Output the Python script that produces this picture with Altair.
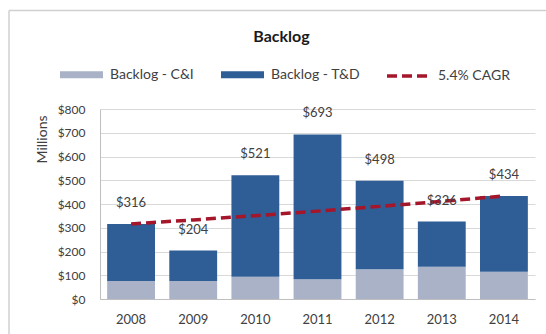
import altair as alt
import pandas as pd

years = ["2008", "2009", "2010", "2011", "2012", "2013", "2014"]
ci_values = [76, 76, 94, 83, 125, 136, 115]
td_values = [240, 128, 427, 610, 373, 190, 319]
totals = [316, 204, 521, 693, 498, 326, 434]
cagr_values = [316, 333, 351, 370, 390, 411, 434]
series_names = ["Backlog - C&I", "Backlog - T&D"]
cagr_name = "5.4% CAGR"
y_ticks = [0, 100, 200, 300, 400, 500, 600, 700, 800]

FONT = "Lato"
TEXT = "#404040"

rows = []
for i, yr in enumerate(years):
    rows.append({"year": yr, "series": series_names[0], "value": ci_values[i], "ord": 0})
    rows.append({"year": yr, "series": series_names[1], "value": td_values[i], "ord": 1})
bars_df = pd.DataFrame(rows)
tot_df = pd.DataFrame({"year": years, "total": totals})
cagr_df = pd.DataFrame({"year": years, "cagr": cagr_values, "name": [cagr_name] * len(years)})

x_scale = alt.Scale(paddingInner=0.23, paddingOuter=0.115)
y_scale = alt.Scale(domain=[0, 800], nice=False)

x_axis = alt.Axis(
    title=None, labelAngle=0, ticks=False, labelPadding=14, labelFontSize=13,
    labelColor=TEXT, labelFont=FONT, domainColor="#bfbfbf", grid=False,
)
y_axis = alt.Axis(
    values=y_ticks, format="$,.0f", ticks=False, labelPadding=15,
    labelFontSize=12, labelColor=TEXT, labelFont=FONT, labelOverlap=False,
    domainColor="#bfbfbf", gridColor="#d9d9d9",
    title="Millions", titleFont=FONT, titleFontSize=14, titleFontWeight="normal",
    titleColor=TEXT, titleX=-58, titleY=30, titleAngle=-90, titleAlign="center",
    titleBaseline="middle",
)

bars = alt.Chart(bars_df).mark_bar().encode(
    x=alt.X("year:N", sort=years, scale=x_scale, axis=x_axis),
    y=alt.Y("value:Q", stack="zero", scale=y_scale, axis=y_axis),
    color=alt.Color(
        "series:N",
        scale=alt.Scale(domain=series_names, range=["#A9B2C6", "#2F5D96"]),
        legend=alt.Legend(
            title=None, orient="none", direction="horizontal", legendX=-40, legendY=-56,
            symbolType="M-1,-0.16 h2 v0.32 h-2 z", symbolSize=1849, symbolStrokeWidth=0,
            labelFont=FONT, labelFontSize=14, labelColor=TEXT, labelOffset=7,
            columnPadding=27,
        ),
    ),
    order=alt.Order("ord:Q"),
)

labels = alt.Chart(tot_df).mark_text(
    baseline="middle", dy=-21, font=FONT, fontSize=13, color=TEXT
).encode(
    x=alt.X("year:N", sort=years, scale=x_scale, axis=x_axis),
    y=alt.Y("total:Q", scale=y_scale, axis=y_axis),
    text=alt.Text("total:Q", format="$.0f"),
)

line = alt.Chart(cagr_df).mark_line(strokeWidth=3.5, strokeDash=[10, 5]).encode(
    x=alt.X("year:N", sort=years, scale=x_scale, axis=x_axis),
    y=alt.Y("cagr:Q", scale=y_scale, axis=y_axis),
    color=alt.Color(
        "name:N",
        scale=alt.Scale(domain=[cagr_name], range=["#A5162A"]),
        legend=alt.Legend(
            title=None, orient="none", direction="horizontal", legendX=285, legendY=-55,
            symbolType="stroke", symbolSize=1600, symbolStrokeWidth=3.5,
            symbolDash=[10, 5], labelFont=FONT, labelFontSize=14, labelColor=TEXT,
            labelOffset=9,
        ),
    ),
)

border = alt.Data(values=[{"k": 1}])
border_top = alt.Chart(border).mark_rule(color="#d0d0d0", strokeWidth=1.5).encode(
    x=alt.value(-91), x2=alt.value(460), y=alt.value(-98.5)
)
border_left = alt.Chart(border).mark_rule(color="#d0d0d0", strokeWidth=1.5).encode(
    x=alt.value(-91), y=alt.value(-98.5), y2=alt.value(240)
)

chart = (
    alt.layer(border_top, border_left, bars, line, labels)
    .resolve_scale(color="independent")
    .resolve_legend(color="independent")
    .properties(
        width=435,
        height=190,
        autosize=alt.AutoSizeParams(type="none"),
        padding={"left": 100, "top": 109, "right": 11, "bottom": 35},
        background="white",
        title=alt.TitleParams(
            "Backlog", font=FONT, fontSize=16, fontWeight="bold", color="#1a1a1a",
            anchor="middle", dx=-36, offset=-51, baseline="bottom",
        ),
    )
    .configure_view(stroke=None)
)

chart.save("out.html", embed_options={"renderer": "svg", "actions": False})
